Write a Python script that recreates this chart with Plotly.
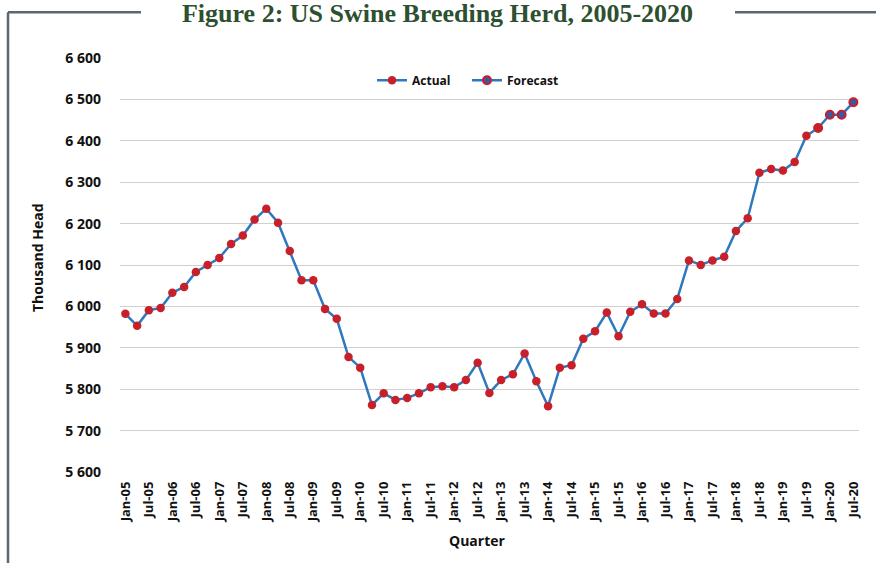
import plotly.graph_objects as go

quarters = [
    "Jan-05", "Apr-05", "Jul-05", "Oct-05", "Jan-06", "Apr-06", "Jul-06", "Oct-06",
    "Jan-07", "Apr-07", "Jul-07", "Oct-07", "Jan-08", "Apr-08", "Jul-08", "Oct-08",
    "Jan-09", "Apr-09", "Jul-09", "Oct-09", "Jan-10", "Apr-10", "Jul-10", "Oct-10",
    "Jan-11", "Apr-11", "Jul-11", "Oct-11", "Jan-12", "Apr-12", "Jul-12", "Oct-12",
    "Jan-13", "Apr-13", "Jul-13", "Oct-13", "Jan-14", "Apr-14", "Jul-14", "Oct-14",
    "Jan-15", "Apr-15", "Jul-15", "Oct-15", "Jan-16", "Apr-16", "Jul-16", "Oct-16",
    "Jan-17", "Apr-17", "Jul-17", "Oct-17", "Jan-18", "Apr-18", "Jul-18", "Oct-18",
    "Jan-19", "Apr-19", "Jul-19", "Oct-19", "Jan-20", "Apr-20", "Jul-20",
]

actual_values = [
    5982, 5953, 5991, 5996, 6033, 6047, 6083, 6100,
    6117, 6151, 6171, 6210, 6236, 6202, 6134, 6063,
    6063, 5994, 5970, 5878, 5852, 5762, 5790, 5774,
    5779, 5790, 5805, 5807, 5805, 5822, 5864, 5791,
    5822, 5836, 5886, 5819, 5759, 5852, 5858, 5922,
    5940, 5985, 5928, 5987, 6005, 5983, 5983, 6018,
    6111, 6100, 6111, 6120, 6182, 6213, 6323, 6332,
    6328, 6349, 6412, 6431,
]
actual_quarters = quarters[:60]

forecast_quarters = ["Oct-19", "Jan-20", "Apr-20", "Jul-20"]
forecast_values = [6431, 6463, 6463, 6493]

tick_labels = [
    "Jan-05", "Jul-05", "Jan-06", "Jul-06", "Jan-07", "Jul-07", "Jan-08", "Jul-08",
    "Jan-09", "Jul-09", "Jan-10", "Jul-10", "Jan-11", "Jul-11", "Jan-12", "Jul-12",
    "Jan-13", "Jul-13", "Jan-14", "Jul-14", "Jan-15", "Jul-15", "Jan-16", "Jul-16",
    "Jan-17", "Jul-17", "Jan-18", "Jul-18", "Jan-19", "Jul-19", "Jan-20", "Jul-20",
]

y_ticks = [5600, 5700, 5800, 5900, 6000, 6100, 6200, 6300, 6400, 6500, 6600]
y_tick_text = [f"{v // 1000} {v % 1000:03d}" for v in y_ticks]

LINE = "#2f78bd"
RED = "#c8202a"
FBLUE = "#3b57a6"
FONT = "Open Sans"
TXT = "#111111"

fig = go.Figure()
fig.add_trace(go.Scatter(
    x=forecast_quarters, y=forecast_values, name="Forecast", mode="lines+markers",
    line=dict(color=LINE, width=2.5),
    marker=dict(size=8, color=FBLUE, line=dict(color=RED, width=2)),
    legendrank=2,
))
fig.add_trace(go.Scatter(
    x=actual_quarters, y=actual_values, name="Actual", mode="lines+markers",
    line=dict(color=LINE, width=2.5),
    marker=dict(size=8.5, color=RED, line=dict(width=0)),
    legendrank=1,
))

PL, PR, PT, PB = 120, 859, 57.7, 472.3
PW, PH = PR - PL, PB - PT

def px_x(x):
    return (x - PL) / PW

def px_y(y):
    return (PB - y) / PH

frame = dict(color="#5d6670", width=2.5)
fig.update_layout(
    width=876, height=563,
    margin=dict(l=PL, r=876 - PR, t=PT, b=563 - PB),
    plot_bgcolor="white", paper_bgcolor="white",
    title=dict(
        text="<b>Figure 2: US Swine Breeding Herd, 2005-2020</b>",
        font=dict(family="Liberation Serif", size=26, color="#2d5030"),
        x=437.5 / 876, xanchor="center", xref="container",
        y=1 - 13 / 563, yanchor="middle", yref="container",
    ),
    showlegend=True,
    legend=dict(
        orientation="h", x=px_x(372), xanchor="left", y=px_y(80), yanchor="middle",
        font=dict(family=FONT, size=12, color=TXT, weight="bold"),
        bgcolor="rgba(0,0,0,0)", itemwidth=30, entrywidth=50, entrywidthmode="pixels",
    ),
    xaxis=dict(
        type="category", categoryorder="array", categoryarray=quarters,
        range=[-0.46, 62.48],
        tickmode="array", tickvals=tick_labels, ticktext=tick_labels,
        tickangle=-90, showgrid=False, zeroline=False, showline=False, ticks="",
        ticklabelstandoff=6,
        tickfont=dict(family=FONT, size=13, color=TXT, weight="bold"),
    ),
    yaxis=dict(
        range=[5600, 6600], tickmode="array", tickvals=y_ticks, ticktext=y_tick_text,
        showgrid=True, gridcolor="#d0d0d0", gridwidth=1, zeroline=False, showline=False,
        ticks="", ticklabelstandoff=18,
        tickfont=dict(family=FONT, size=14, color=TXT, weight="bold"),
    ),
    annotations=[
        dict(text="Quarter", xref="paper", yref="paper", x=px_x(477), y=px_y(541),
             xanchor="center", yanchor="middle", showarrow=False,
             font=dict(family=FONT, size=14, color=TXT, weight="bold")),
        dict(text="Thousand Head", xref="paper", yref="paper", x=px_x(37), y=px_y(258),
             xanchor="center", yanchor="middle", showarrow=False, textangle=-90,
             font=dict(family=FONT, size=14, color=TXT, weight="bold")),
    ],
    shapes=[
        dict(type="line", xref="paper", yref="paper",
             x0=px_x(8), x1=px_x(8), y0=px_y(12), y1=px_y(570), line=frame),
        dict(type="line", xref="paper", yref="paper",
             x0=px_x(8), x1=px_x(141), y0=px_y(12), y1=px_y(12), line=frame),
        dict(type="line", xref="paper", yref="paper",
             x0=px_x(735), x1=px_x(880), y0=px_y(12), y1=px_y(12), line=frame),
    ],
)

fig.write_html("out.html")
